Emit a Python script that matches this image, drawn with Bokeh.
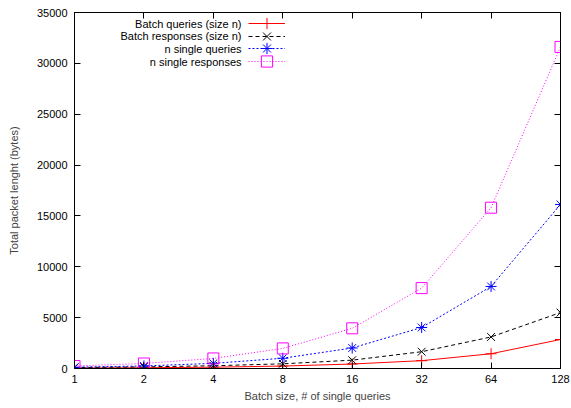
from bokeh.plotting import figure
from bokeh.models import (LogAxis, LinearAxis, FixedTicker, Legend, LegendItem,
                          Label, Range1d, BasicTickFormatter)
from bokeh.embed import file_html
from bokeh.resources import INLINE

# Batch size (number of single queries)
batch_sizes = [1, 2, 4, 8, 16, 32, 64, 128]
x_tick_labels = ["1", "2", "4", "8", "16", "32", "64", "128"]

# Total packet length in bytes for each scheme
batch_queries = [50, 75, 130, 240, 440, 770, 1450, 2850]
batch_responses = [95, 160, 270, 460, 820, 1650, 3100, 5500]
single_queries = [126, 252, 504, 1008, 2016, 4032, 8064, 16128]
single_responses = [247, 494, 988, 1976, 3952, 7904, 15808, 31616]

y_ticks = [0, 5000, 10000, 15000, 20000, 25000, 30000, 35000]

FONT = "Liberation Sans"
FS = "11px"

p = figure(width=571, height=408, x_axis_type="log",
           x_range=Range1d(1, 128), y_range=Range1d(0, 35000),
           output_backend="svg", toolbar_location=None,
           min_border_left=74, min_border_right=11,
           min_border_top=12, min_border_bottom=40)
p.xgrid.visible = False
p.ygrid.visible = False
p.outline_line_color = "black"
p.outline_line_width = 1
p.background_fill_color = "white"
p.border_fill_color = "white"


def style_axis(ax):
    ax.axis_line_color = "black"
    ax.major_tick_line_color = "black"
    ax.major_tick_in = 6
    ax.major_tick_out = 0
    ax.minor_tick_line_color = None
    ax.major_label_text_font = FONT
    ax.major_label_text_color = "black"
    ax.major_label_text_font_size = FS
    ax.axis_label_text_font = FONT
    ax.axis_label_text_font_style = "normal"
    ax.axis_label_text_font_size = FS


xa = p.xaxis[0]
xa.ticker = FixedTicker(ticks=batch_sizes)
xa.formatter = BasicTickFormatter()
xa.major_label_overrides = {b: t for b, t in zip(batch_sizes, x_tick_labels)}
xa.axis_label = "Batch size, # of single queries"
style_axis(xa)
xa.major_label_standoff = 6
xa.axis_label_standoff = 4

ya = p.yaxis[0]
ya.ticker = FixedTicker(ticks=y_ticks)
ya.formatter = BasicTickFormatter(use_scientific=False)
ya.axis_label = "Total packet lenght (bytes)"
style_axis(ya)
ya.major_label_standoff = 7
ya.axis_label_standoff = 14

# mirrored tick marks on the top and right edges, without labels
top = LogAxis(ticker=FixedTicker(ticks=batch_sizes))
style_axis(top)
top.major_label_overrides = {b: "" for b in batch_sizes}
top.major_label_standoff = 0
p.add_layout(top, "above")
right = LinearAxis(ticker=FixedTicker(ticks=y_ticks))
style_axis(right)
right.major_label_overrides = {t: "" for t in y_ticks}
right.major_label_standoff = 0
p.add_layout(right, "right")

series = [
    ("Batch queries (size n)", batch_queries, "#ff0000", None, "cross"),
    ("Batch responses (size n)", batch_responses, "#000000", "4 3", "x"),
    ("n single queries", single_queries, "#0000ff", "2 2", "asterisk"),
    ("n single responses", single_responses, "#ff00ff", "1 2", "square"),
]

ROW_PITCH = 12.7
for i, (name, ys, color, dash, marker) in enumerate(series):
    ln = p.line(batch_sizes, ys, line_color=color, line_width=1,
                line_dash=dash if dash else "solid")
    mk = p.scatter(batch_sizes, ys, marker=marker, size=11,
                   line_color=color, fill_color=None, line_width=1)
    # one key sample per entry; the entry name sits to its left
    key = Legend(items=[LegendItem(label=" ", renderers=[ln, mk])],
                 location=(174, 331 - ROW_PITCH * i),
                 glyph_width=37, glyph_height=28, label_height=28,
                 label_width=0, label_standoff=0, spacing=0, padding=0,
                 margin=0, border_line_alpha=0, background_fill_alpha=0,
                 label_text_font_size=FS)
    p.add_layout(key, "center")
    p.add_layout(Label(x=167, y=345 - ROW_PITCH * i, x_units="screen", y_units="screen",
                       text=name, text_align="right", text_baseline="middle",
                       text_font=FONT, text_font_size=FS, text_color="black"))

open("out.html", "w").write(file_html(p, INLINE))
